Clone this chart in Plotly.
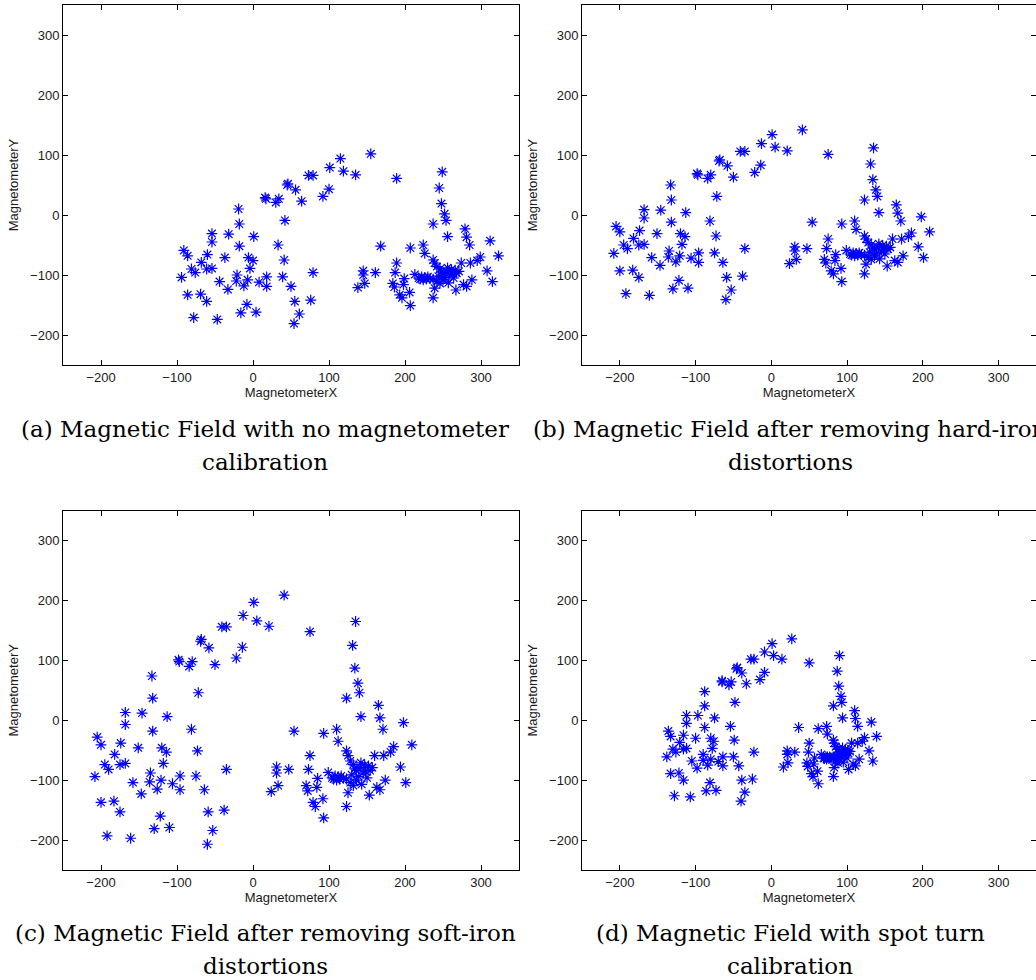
import plotly.graph_objects as go

# ---------------- data ----------------
a_x = [155, 115, 101, 119, 135, 73, 79, 46, 45, 56, 100, 64, 92, 16, 17, 30, 34, 42, -19, -18,
       189, -18, 1, -32, -54, -54, -60, -37, -91, -86, -68, -81, -76, -61, -54, -94, -44, -33, -86, -69,
       -61, -78, -47, -6, 0, -4, -21, -22, -7, -12, 8, 18, 18, -8, -16, 4, 33, 41, 39, 50,
       79, 55, 76, 61, 54,
       168, 145, 145, 147, 138, 161, 207, 224, 226, 189, 187, 184, 186, 199, 198, 193, 196, 206, 207, 213,
       220, 226, 233, 237, 242, 246, 237, 239, 237, 239, 242, 245, 249, 248, 252, 254, 237, 256, 246, 250,
       255, 259, 250, 257, 264, 268, 266, 261, 256, 267, 274, 279, 281, 285, 286, 277, 281, 288, 295, 299,
       312, 323, 308, 315, 222, 224, 228, 230, 218, 262, 253, 244, 271, 248]
a_y = [102, 94, 79, 73, 67, 66, 66, 52, 50, 42, 43, 23, 31, 29, 27, 21, 27, -9, 10, -15,
       61, -52, -36, -32, -31, -45, -66, -71, -59, -68, -79, -90, -96, -90, -89, -104, -111, -124, -133, -132,
       -144, -171, -174, -71, -76, -89, -100, -110, -108, -118, -112, -103, -119, -149, -163, -162, -50, -75, -103, -119,
       -96, -144, -142, -165, -181,
       -52, -93, -100, -114, -121, -96, -55, -50, -64, -80, -96, -114, -120, -106, -116, -133, -138, -129, -151, -99,
       -107, -104, -106, -107, -111, -114, -138, -122, -75, -80, -86, 45, 72, 19, 2, -9, -15, -36, -90, -97,
       -94, -100, -108, -113, -105, -97, -92, -91, -88, -125, -80, -23, -37, -50, -80, -116, -119, -108, -76, -70,
       -43, -68, -93, -111, -103, -108, -107, -103, -105, -98, -104, -102, -94, -95]

b_x = [41, 1, -13, 5, 21, -41, -35, -68, -69, -58, -14, -50, -22, -98, -97, -84, -80, -72, -133, -132,
       75, -132, -113, -146, -168, -168, -174, -151, -205, -200, -182, -195, -190, -175, -168, -208, -158, -147, -200, -183,
       -175, -192, -161, -120, -114, -118, -135, -136, -121, -126, -106, -96, -96, -122, -130, -110, -81, -73, -75, -64,
       -35, -59, -38, -53, -60,
       54, 31, 31, 33, 24, 47, 93, 110, 112, 75, 73, 70, 72, 85, 84, 79, 82, 92, 93, 99,
       106, 112, 119, 123, 128, 132, 123, 125, 123, 125, 128, 131, 135, 134, 138, 140, 123, 142, 132, 136,
       141, 145, 136, 143, 150, 154, 152, 147, 142, 153, 160, 165, 167, 171, 172, 163, 167, 174, 181, 185,
       198, 209, 194, 201, 108, 110, 114, 116, 104, 148, 139, 130, 157, 134]
b_y = [142, 134, 119, 113, 107, 106, 106, 92, 90, 82, 83, 63, 71, 69, 67, 61, 67, 31, 50, 25,
       101, -12, 4, 8, 9, -5, -26, -31, -19, -28, -39, -50, -56, -50, -49, -64, -71, -84, -93, -92,
       -104, -131, -134, -31, -36, -49, -60, -70, -68, -78, -72, -63, -79, -109, -123, -122, -10, -35, -63, -79,
       -56, -104, -102, -125, -141,
       -12, -53, -60, -74, -81, -56, -15, -10, -24, -40, -56, -74, -80, -66, -76, -93, -98, -89, -111, -59,
       -67, -64, -66, -67, -71, -74, -98, -82, -35, -40, -46, 85, 112, 59, 42, 31, 25, 4, -50, -57,
       -54, -60, -68, -73, -65, -57, -52, -51, -48, -85, -40, 17, 3, -10, -40, -76, -79, -68, -36, -30,
       -3, -28, -53, -71, -63, -68, -67, -63, -65, -58, -64, -62, -54, -55]

c_x = [41, 1, -13, 5, 21, -41, -35, -68, -69, -58, -14, -50, -22, -98, -97, -84, -80, -72, -133, -132,
       75, -132, -113, -146, -168, -168, -174, -151, -205, -200, -182, -195, -190, -175, -168, -208, -158, -147, -200, -183,
       -175, -192, -161, -120, -114, -118, -135, -136, -121, -126, -106, -96, -96, -122, -130, -110, -81, -73, -75, -64,
       -35, -59, -38, -53, -60,
       54, 31, 31, 33, 24, 47, 93, 110, 112, 75, 73, 70, 72, 85, 84, 79, 82, 92, 93, 99,
       106, 112, 119, 123, 128, 132, 123, 125, 123, 125, 128, 131, 135, 134, 138, 140, 123, 142, 132, 136,
       141, 145, 136, 143, 150, 154, 152, 147, 142, 153, 160, 165, 167, 171, 172, 163, 167, 174, 181, 185,
       198, 209, 194, 201, 108, 110, 114, 116, 104, 148, 139, 130, 157, 134]
c_y = [209, 197, 175, 166, 157, 156, 156, 135, 132, 121, 122, 93, 104, 101, 98, 90, 98, 46, 74, 37,
       148, -18, 6, 12, 13, -7, -38, -46, -28, -41, -57, -74, -82, -74, -72, -94, -104, -123, -137, -135,
       -153, -193, -197, -46, -53, -72, -88, -103, -100, -115, -106, -93, -116, -160, -181, -179, -15, -51, -93, -116,
       -82, -153, -150, -184, -207,
       -18, -78, -88, -109, -119, -82, -22, -15, -35, -59, -82, -109, -118, -97, -112, -137, -144, -131, -163, -87,
       -98, -94, -97, -98, -104, -109, -144, -121, -51, -59, -68, 125, 165, 87, 62, 46, 37, 6, -74, -84,
       -79, -88, -100, -107, -96, -84, -76, -75, -71, -125, -59, 25, 4, -15, -59, -112, -116, -100, -53, -44,
       -4, -41, -78, -104, -93, -100, -98, -93, -96, -85, -94, -91, -79, -81]

d_x = [27, 1, -9, 3, 14, -27, -23, -45, -46, -39, -9, -33, -15, -65, -65, -56, -53, -48, -88, -88,
       50, -88, -75, -97, -112, -112, -116, -100, -136, -133, -121, -130, -126, -116, -112, -138, -105, -98, -133, -122,
       -116, -128, -107, -80, -76, -78, -90, -90, -80, -84, -70, -64, -64, -81, -86, -73, -54, -49, -50, -43,
       -23, -39, -25, -35, -40,
       36, 21, 21, 22, 16, 31, 62, 73, 74, 50, 49, 47, 48, 57, 56, 53, 55, 61, 62, 66,
       70, 74, 79, 82, 85, 88, 82, 83, 82, 83, 85, 87, 90, 89, 92, 93, 82, 94, 88, 90,
       94, 96, 90, 95, 100, 102, 101, 98, 94, 102, 106, 110, 111, 114, 114, 108, 111, 116, 120, 123,
       132, 139, 129, 134, 72, 73, 76, 77, 69, 98, 92, 86, 104, 89]
d_y = [136, 128, 114, 108, 102, 102, 102, 88, 86, 79, 80, 61, 68, 66, 64, 59, 64, 30, 48, 24,
       96, -12, 4, 8, 8, -5, -25, -30, -18, -27, -37, -48, -53, -48, -47, -61, -68, -80, -89, -88,
       -100, -126, -128, -30, -35, -47, -57, -67, -65, -75, -69, -61, -76, -104, -118, -117, -10, -33, -61, -76,
       -53, -100, -98, -120, -135,
       -12, -51, -57, -71, -78, -53, -14, -10, -23, -38, -53, -71, -77, -63, -73, -89, -94, -85, -106, -57,
       -64, -61, -63, -64, -68, -71, -94, -79, -33, -38, -44, 82, 108, 57, 40, 30, 24, 4, -48, -55,
       -52, -57, -65, -70, -63, -55, -50, -49, -46, -82, -38, 16, 3, -10, -38, -73, -76, -65, -35, -29,
       -3, -27, -51, -68, -61, -65, -64, -61, -63, -55, -61, -59, -52, -53]

tick_vals = [-200, -100, 0, 100, 200, 300]
x_title = "MagnetometerX"
y_title = "MagnetometerY"
captions = [
    ("(a) Magnetic Field with no magnetometer", "calibration"),
    ("(b) Magnetic Field after removing hard-iron", "distortions"),
    ("(c) Magnetic Field after removing soft-iron", "distortions"),
    ("(d) Magnetic Field with spot turn", "calibration"),
]

# ---------------- layout helpers ----------------
W, H = 1036, 980


def fx(p):
    return p / W


def fy(p):
    return 1 - p / H


tick_font = dict(family="Liberation Sans, Arial, sans-serif", size=13, color="#1a1a1a")
title_font = dict(family="Liberation Sans, Arial, sans-serif", size=13, color="#1a1a1a")

panels = [
    dict(xs=a_x, ys=a_y, xdom=(63, 519), ydom=(5, 365), xr=[-250, 350], right_frame=True),
    dict(xs=b_x, ys=b_y, xdom=(582, 1036), ydom=(5, 365), xr=[-250, 349.5], right_frame=False),
    dict(xs=c_x, ys=c_y, xdom=(63, 519), ydom=(510.7, 870), xr=[-250, 350], right_frame=True),
    dict(xs=d_x, ys=d_y, xdom=(582, 1036), ydom=(510.7, 870), xr=[-250, 349.5], right_frame=False),
]

fig = go.Figure()
layout = dict(
    width=W, height=H,
    margin=dict(l=0, r=0, t=0, b=0),
    paper_bgcolor="white", plot_bgcolor="white",
    showlegend=False,
)

extra_idx = 5
for i, p in enumerate(panels):
    n = i + 1
    xa = "x" if n == 1 else f"x{n}"
    ya = "y" if n == 1 else f"y{n}"
    fig.add_trace(go.Scatter(
        x=p["xs"], y=p["ys"], mode="markers", xaxis=xa, yaxis=ya,
        marker=dict(symbol="asterisk-open", size=9, color="#0000ff",
                    line=dict(color="#0000ff", width=1.2)),
        hoverinfo="skip",
    ))
    common = dict(showgrid=False, zeroline=False, showline=True, linecolor="black", linewidth=1,
                  ticks="inside", ticklen=5, tickwidth=1, tickcolor="black",
                  tickvals=tick_vals, tickfont=tick_font, fixedrange=True)
    layout[f"xaxis{'' if n == 1 else n}"] = dict(
        common, domain=[fx(p["xdom"][0]), fx(p["xdom"][1])], range=p["xr"],
        anchor=ya, mirror="ticks",
        title=dict(text=x_title, font=title_font, standoff=2),
    )
    layout[f"yaxis{'' if n == 1 else n}"] = dict(
        common, domain=[fy(p["ydom"][1]), fy(p["ydom"][0])], range=[-250, 350],
        anchor=xa, mirror="ticks" if p["right_frame"] else False,
        title=dict(text=y_title, font=title_font, standoff=8),
    )
    if not p["right_frame"]:
        # right-side inward ticks of the (cropped) frame
        yo = f"y{extra_idx}"
        layout[f"yaxis{extra_idx}"] = dict(
            overlaying=ya, side="right", anchor=xa, range=[-250, 350],
            showgrid=False, zeroline=False, showline=False, ticks="inside", ticklen=5,
            tickwidth=1, tickcolor="black", tickvals=tick_vals, showticklabels=False,
            fixedrange=True,
        )
        fig.add_trace(go.Scatter(x=[None], y=[None], xaxis=xa, yaxis=yo, mode="markers",
                                 hoverinfo="skip", showlegend=False))
        extra_idx += 1

cap_font = dict(family="DejaVu Serif, serif", size=23, color="black")
cap_centers_x = [265, 790, 265, 790]
cap_lines_y = [(429, 462), (429, 462), (933, 966), (933, 966)]
annotations = []
for (l1, l2), cx, (y1, y2) in zip(captions, cap_centers_x, cap_lines_y):
    for txt, yy in ((l1, y1), (l2, y2)):
        annotations.append(dict(
            text=txt, x=fx(cx), y=fy(yy), xref="paper", yref="paper",
            xanchor="center", yanchor="middle", showarrow=False, font=cap_font,
        ))
layout["annotations"] = annotations

fig.update_layout(**layout)
fig.write_html(
    "out.html",
    config={"displayModeBar": False},
    post_script="document.body.style.margin='0';document.body.style.overflow='hidden';",
)
